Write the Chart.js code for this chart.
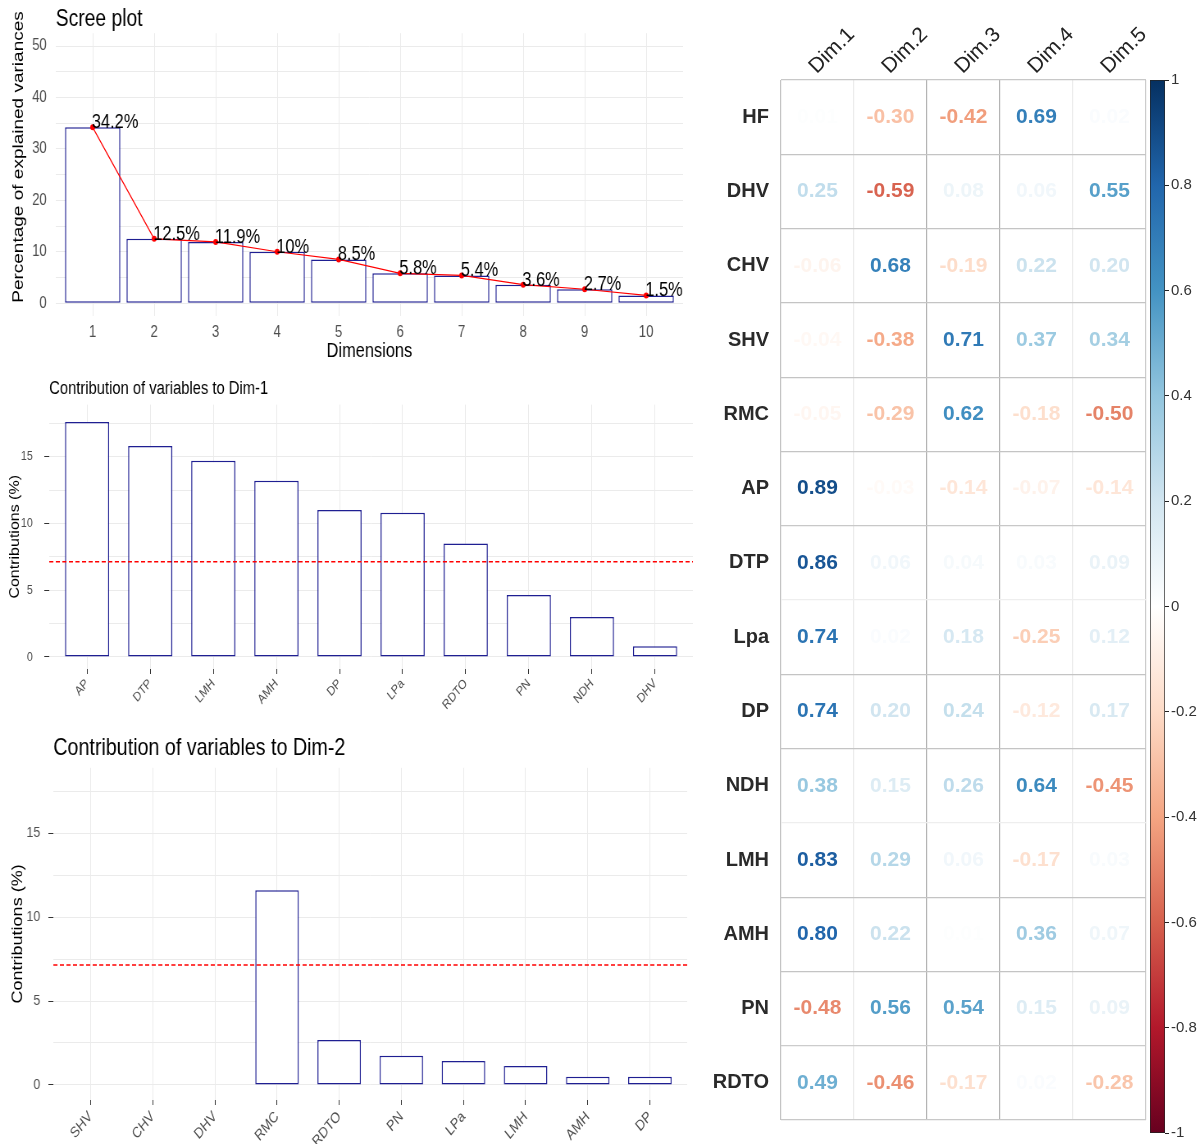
<!DOCTYPE html>
<html>
<head>
<meta charset="utf-8">
<title>PCA - scree plot, contributions and correlations</title>
<script src="https://cdn.jsdelivr.net/npm/chart.js@4.4.1/dist/chart.umd.min.js"></script>
<style>
  html, body { margin: 0; padding: 0; background: #fff; overflow: hidden; }
  #page { position: relative; width: 1198px; height: 1144px; overflow: hidden; }
  canvas { position: absolute; }
  /* la figura original está comprimida en horizontal */
  .squeezed { transform: scaleX(0.82); transform-origin: 0 0; }
</style>
</head>
<body>
<div id="page">
  <canvas id="scree" class="squeezed" width="842" height="365" style="left:0;top:0"></canvas>
  <canvas id="contrib1" class="squeezed" width="848" height="340" style="left:0;top:372px"></canvas>
  <canvas id="contrib2" class="squeezed" width="848" height="414" style="left:0;top:730px"></canvas>
  <canvas id="corr" width="450" height="1144" style="left:700px;top:0"></canvas>
  <canvas id="colorbar" width="52" height="1084" style="left:1146px;top:60px"></canvas>
</div>
<script>
// --- datos ---
const screeDims = [1, 2, 3, 4, 5, 6, 7, 8, 9, 10];
const screeValues = [34.2, 12.5, 11.9, 10, 8.5, 5.8, 5.4, 3.6, 2.7, 1.5];
const screeTicks = [0, 5, 10, 15, 20, 25, 30, 35, 40, 45, 50];

const dim1Vars = ['AP', 'DTP', 'LMH', 'AMH', 'DP', 'LPa', 'RDTO', 'PN', 'NDH', 'DHV'];
const dim1Contrib = [17.6, 15.8, 14.7, 13.2, 11.0, 10.8, 8.5, 4.65, 3.0, 0.8];
// SHV, CHV y DHV quedan fuera del rango del eje en la figura original
const dim2Vars = ['SHV', 'CHV', 'DHV', 'RMC', 'RDTO', 'PN', 'LPa', 'LMH', 'AMH', 'DP'];
const dim2Contrib = [null, null, null, 11.6, 2.68, 1.73, 1.43, 1.13, 0.48, 0.48];
const expectedContrib = 7.14;
const contribTicks = [0, 2.5, 5, 7.5, 10, 12.5, 15, 17.5];

const corrRows = ['HF', 'DHV', 'CHV', 'SHV', 'RMC', 'AP', 'DTP', 'Lpa', 'DP', 'NDH', 'LMH', 'AMH', 'PN', 'RDTO'];
const corrCols = ['Dim.1', 'Dim.2', 'Dim.3', 'Dim.4', 'Dim.5'];
const corrDim1 = [0.01, 0.25, -0.06, -0.04, -0.05, 0.89, 0.86, 0.74, 0.74, 0.38, 0.83, 0.80, -0.48, 0.49];
const corrDim2 = [-0.30, -0.59, 0.68, -0.38, -0.29, -0.03, 0.06, 0.02, 0.20, 0.15, 0.29, 0.22, 0.56, -0.46];
const corrDim3 = [-0.42, 0.08, -0.19, 0.71, 0.62, -0.14, 0.04, 0.18, 0.24, 0.26, 0.06, 0.01, 0.54, -0.17];
const corrDim4 = [0.69, 0.06, 0.22, 0.37, -0.18, -0.07, 0.03, -0.25, -0.12, 0.64, -0.17, 0.36, 0.15, 0.02];
const corrDim5 = [0.02, 0.55, 0.20, 0.34, -0.50, -0.14, 0.09, 0.12, 0.17, -0.45, 0.03, 0.07, 0.09, -0.28];
const colorbarTicks = [-1, -0.8, -0.6, -0.4, -0.2, 0, 0.2, 0.4, 0.6, 0.8, 1];

// --- estilos ---
const SANS = "'Liberation Sans', Arial, sans-serif";
const GRID = '#ebebeb';
const TICK_TXT = '#4d4d4d';
const BAR_LINE = '#1f1f92';
const rdbu = ['#67001F', '#B2182B', '#D6604D', '#F4A582', '#FDDBC7', '#FFFFFF',
              '#D1E5F0', '#92C5DE', '#4393C3', '#2166AC', '#053061'];
const vLineColors = ['#c4c4c4', '#ececec', '#b4b4b4', '#b4b4b4', '#ececec', '#cccccc'];
const hLineColors = ['#c8c8c8', '#c4c4c4', '#c4c4c4', '#c4c4c4', '#c4c4c4', '#c4c4c4', '#c8c8c8', '#eeeeee',
                     '#c4c4c4', '#c4c4c4', '#eeeeee', '#c4c4c4', '#c4c4c4', '#cccccc', '#c8c8c8'];

Chart.defaults.font.family = SANS;

function hexRgb(h) {
  return [parseInt(h.slice(1, 3), 16), parseInt(h.slice(3, 5), 16), parseInt(h.slice(5, 7), 16)];
}
function corrColor(v) {
  const p = (v + 1) / 2 * (rdbu.length - 1);
  const i = Math.min(Math.floor(p), rdbu.length - 2);
  const t = p - i;
  const a = hexRgb(rdbu[i]), b = hexRgb(rdbu[i + 1]);
  const c = a.map((x, k) => Math.round(x + (b[k] - x) * t));
  return `rgb(${c[0]},${c[1]},${c[2]})`;
}
const fixedTicks = vals => s => { s.ticks = vals.map(v => ({ value: v })); };
const noPlugins = { legend: { display: false }, tooltip: { enabled: false } };

// etiquetas de porcentaje sobre los puntos
const screeLabels = {
  id: 'screeLabels',
  afterDatasetsDraw(chart) {
    const ctx = chart.ctx;
    const meta = chart.getDatasetMeta(0);
    ctx.save();
    ctx.font = `20px ${SANS}`;
    ctx.fillStyle = '#000';
    ctx.textAlign = 'left';
    ctx.textBaseline = 'alphabetic';
    meta.data.forEach((pt, i) => ctx.fillText(screeValues[i] + '%', pt.x - 1, pt.y + 1));
    ctx.restore();
  }
};
const screeYTitle = {
  id: 'screeYTitle',
  afterDraw(chart) {
    const ctx = chart.ctx;
    ctx.save();
    ctx.translate(23, 157);
    ctx.rotate(-Math.PI / 2);
    ctx.font = `19px ${SANS}`;
    ctx.fillStyle = '#000';
    ctx.textAlign = 'center';
    ctx.textBaseline = 'middle';
    ctx.fillText('Percentage of explained variances', 0, 0);
    ctx.restore();
  }
};

// Scree plot
new Chart(document.getElementById('scree'), {
  type: 'bar',
  data: {
    datasets: [
      {
        type: 'line',
        data: screeDims.map((d, i) => ({ x: d, y: screeValues[i] })),
        borderColor: '#ff0000', borderWidth: 1.2, tension: 0,
        pointRadius: 3, pointBackgroundColor: '#ff0000', pointBorderColor: '#ff0000', pointBorderWidth: 0,
        order: 0
      },
      {
        data: screeDims.map((d, i) => ({ x: d, y: screeValues[i] })),
        backgroundColor: '#fff', borderColor: BAR_LINE, borderWidth: 1.5, borderSkipped: false,
        barPercentage: 0.9, categoryPercentage: 1, order: 1
      }
    ]
  },
  options: {
    responsive: false, animation: false,
    layout: { padding: { left: 0, right: 9, top: 0, bottom: 0 } },
    plugins: {
      ...noPlugins,
      title: { display: true, text: 'Scree plot', align: 'start', fullSize: false, color: '#000',
               font: { size: 23.5, weight: 'normal' }, padding: { top: 5, bottom: 0 } }
    },
    scales: {
      x: {
        type: 'linear', min: 0.4, max: 10.6, offset: false,
        afterBuildTicks: fixedTicks(screeDims),
        afterFit: s => { s.height = 49; },
        grid: { color: GRID, drawTicks: false, offset: false }, border: { display: false },
        ticks: { autoSkip: false, maxRotation: 0, padding: 7, color: TICK_TXT, font: { size: 16 } },
        title: { display: true, text: 'Dimensions', color: '#000', font: { size: 20 }, padding: { top: 0, bottom: 2 } }
      },
      y: {
        min: -2.5, max: 52.5,
        afterBuildTicks: fixedTicks(screeTicks),
        afterFit: s => { s.width = 68; },
        grid: { color: GRID, drawTicks: false }, border: { display: false },
        ticks: { padding: 11, color: TICK_TXT, font: { size: 16 }, callback: v => (v % 10 === 0 ? v : '') }
      }
    }
  },
  plugins: [screeLabels, screeYTitle]
});

// Contribuciones a Dim-1 / Dim-2
function contribChart(id, names, values, o) {
  return new Chart(document.getElementById(id), {
    type: 'bar',
    data: {
      datasets: [
        {
          type: 'line',
          data: [{ x: -0.6, y: expectedContrib }, { x: 9.6, y: expectedContrib }],
          borderColor: '#ff0000', borderWidth: 1.5, borderDash: [5, 3], pointRadius: 0, order: 0
        },
        {
          data: names.map((n, i) => ({ x: i, y: values[i] })),
          backgroundColor: '#fff', borderColor: BAR_LINE, borderWidth: 1.5, borderSkipped: false,
          barPercentage: 0.7, categoryPercentage: 1, order: 1
        }
      ]
    },
    options: {
      responsive: false, animation: false,
      layout: { padding: { left: 0, right: o.padRight, top: 0, bottom: 0 } },
      plugins: {
        ...noPlugins,
        title: { display: true, text: o.title, align: 'start', fullSize: false, color: '#000',
                 font: { size: o.titleSize, weight: 'normal' }, padding: o.titlePad }
      },
      scales: {
        x: {
          type: 'linear', min: -0.6, max: 9.6, offset: false,
          afterBuildTicks: fixedTicks(names.map((n, i) => i)),
          afterFit: s => { s.height = o.xHeight; },
          grid: { color: GRID, tickColor: '#333', tickLength: 5, offset: false }, border: { display: false },
          ticks: { autoSkip: false, minRotation: 45, maxRotation: 45, padding: o.xPad,
                   color: TICK_TXT, font: { size: o.xFont }, callback: v => names[v] }
        },
        y: {
          min: -0.9, max: 18.9,
          afterBuildTicks: fixedTicks(contribTicks),
          afterFit: s => { s.width = o.yWidth; },
          grid: { color: GRID, tickLength: 6,
                  tickColor: c => (c.tick && c.tick.value % 5 === 0 ? '#333' : 'rgba(0,0,0,0)') },
          border: { display: false },
          ticks: { padding: o.yPad, color: TICK_TXT, font: { size: o.yFont },
                   callback: v => (v % 5 === 0 ? v : '') },
          title: { display: true, text: 'Contributions (%)', color: '#000',
                   font: { size: o.yTitleSize }, padding: { top: o.yTitlePad, bottom: 0 } }
        }
      }
    }
  });
}

contribChart('contrib1', dim1Vars, dim1Contrib, {
  title: 'Contribution of variables to Dim-1', titleSize: 18, titlePad: { top: 6, bottom: 5 },
  padRight: 3, xHeight: 43, xPad: 2, xFont: 13,
  yWidth: 60, yPad: 14, yFont: 13, yTitleSize: 16, yTitlePad: 9
});
contribChart('contrib2', dim2Vars, dim2Contrib, {
  title: 'Contribution of variables to Dim-2', titleSize: 24, titlePad: { top: 4, bottom: 5 },
  padRight: 10, xHeight: 44, xPad: 3, xFont: 15,
  yWidth: 65, yPad: 10, yFont: 15, yTitleSize: 18, yTitlePad: 11
});

// Matriz de correlaciones (números coloreados)
const corrByDim = [corrDim1, corrDim2, corrDim3, corrDim4, corrDim5];
const corrCells = [];
corrRows.forEach((r, i) => corrCols.forEach((c, j) => corrCells.push({ x: j + 1, y: i + 1, v: corrByDim[j][i] })));

const corrNumbers = {
  id: 'corrNumbers',
  afterDatasetsDraw(chart) {
    const ctx = chart.ctx;
    const meta = chart.getDatasetMeta(0);
    ctx.save();
    ctx.font = `bold 21px ${SANS}`;
    ctx.textAlign = 'center';
    ctx.textBaseline = 'middle';
    meta.data.forEach((pt, i) => {
      const v = corrCells[i].v;
      ctx.fillStyle = corrColor(v);
      ctx.fillText(v.toFixed(2), pt.x, pt.y);
    });
    ctx.restore();
  }
};

new Chart(document.getElementById('corr'), {
  type: 'scatter',
  data: { datasets: [{ data: corrCells, pointRadius: 0, pointHoverRadius: 0 }] },
  options: {
    responsive: false, animation: false,
    layout: { padding: { left: 0, right: 4, top: 0, bottom: 9 } },
    plugins: noPlugins,
    scales: {
      x: {
        type: 'linear', position: 'top', min: 0.5, max: 5.5,
        afterBuildTicks: fixedTicks(corrCols.map((c, i) => i + 1)),
        afterFit: s => { s.height = 80; },
        grid: { offset: true, drawTicks: false, color: c => vLineColors[c.index ?? 5], lineWidth: 1.2 },
        border: { display: false },
        ticks: { autoSkip: false, minRotation: 45, maxRotation: 45, padding: 1, labelOffset: 13, color: '#222',
                 font: { size: 21 }, callback: v => corrCols[v - 1] }
      },
      y: {
        type: 'linear', reverse: true, min: 0.5, max: 14.5,
        afterBuildTicks: fixedTicks(corrRows.map((r, i) => i + 1)),
        afterFit: s => { s.width = 81; },
        grid: { offset: true, drawTicks: false, color: c => hLineColors[c.index ?? 14], lineWidth: 1.2 },
        border: { display: false },
        ticks: { autoSkip: false, padding: 12, color: '#2a2a2a',
                 font: { size: 20, weight: 'bold' }, callback: v => corrRows[v - 1] }
      }
    }
  },
  plugins: [corrNumbers]
});

// Barra de color
new Chart(document.getElementById('colorbar'), {
  type: 'bar',
  data: {
    labels: [''],
    datasets: [{
      data: [[-1, 1]],
      backgroundColor: c => {
        const area = c.chart.chartArea;
        if (!area || !Number.isFinite(area.top) || !Number.isFinite(area.bottom) || area.bottom <= area.top) {
          return '#ffffff';
        }
        const g = c.chart.ctx.createLinearGradient(0, area.bottom, 0, area.top);
        rdbu.forEach((col, i) => g.addColorStop(i / (rdbu.length - 1), col));
        return g;
      },
      borderColor: '#222', borderWidth: 1, borderSkipped: false,
      barPercentage: 1, categoryPercentage: 1
    }]
  },
  options: {
    responsive: false, animation: false,
    layout: { padding: { left: 4, right: 0, top: 20, bottom: 9 } },
    plugins: noPlugins,
    scales: {
      x: { display: false },
      y: {
        position: 'right', min: -1, max: 1,
        afterBuildTicks: fixedTicks(colorbarTicks),
        afterFit: s => { s.width = 33; },
        grid: { drawOnChartArea: false, tickLength: 4, tickColor: '#222' },
        border: { display: false },
        ticks: { padding: 2, color: '#333', font: { size: 15 },
                 callback: v => String(Math.round(v * 10) / 10) }
      }
    }
  }
});
</script>
</body>
</html>
